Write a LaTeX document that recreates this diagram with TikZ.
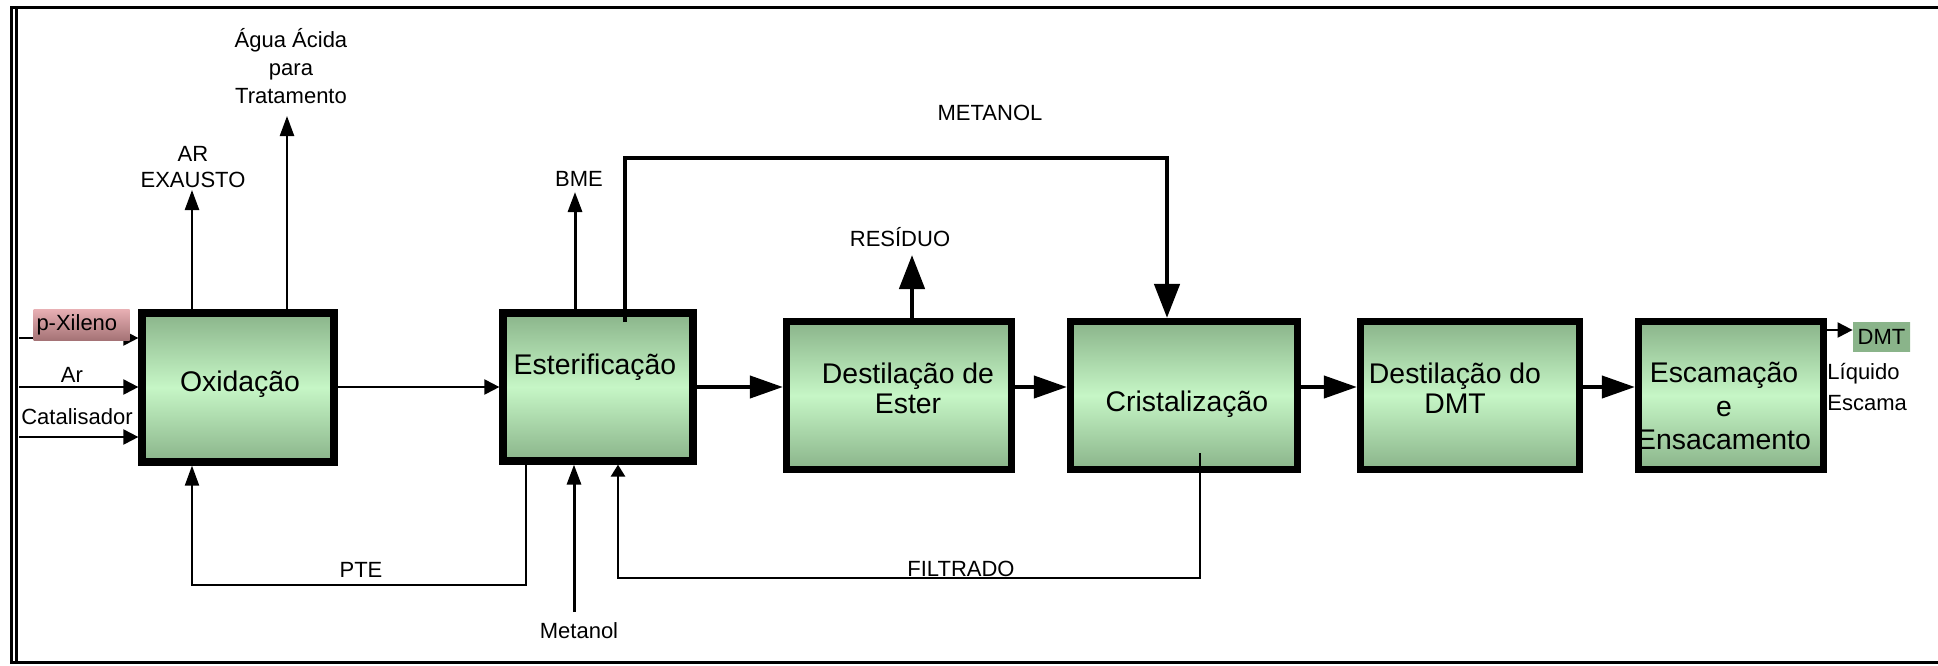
\documentclass[tikz,border=0pt]{standalone}
\usepackage{fontspec}
\setmainfont{Liberation Sans}
\usepackage{tikz}
\usetikzlibrary{arrows.meta,positioning}
\definecolor{boxdark}{RGB}{138,180,138}
\definecolor{boxlight}{RGB}{198,246,198}
\definecolor{pxdark}{RGB}{165,115,118}
\definecolor{pxmid}{RGB}{232,176,180}
\definecolor{pxlight}{RGB}{246,206,209}
\newcommand{\boxfont}{\fontsize{14.2pt}{15pt}\selectfont}
\newcommand{\lblfont}{\fontsize{11pt}{13.5pt}\selectfont}

\begin{document}
\begin{tikzpicture}[x=0.5pt,y=-0.5pt]
\tikzstyle{unit}=[rectangle, draw=black, line width=3.6pt, top color=boxdark, bottom color=boxdark, middle color=boxlight, inner sep=0pt]
\tikzstyle{utext}=[font=\boxfont, align=center, inner sep=0pt]
\tikzstyle{lbl}=[font=\lblfont, align=center, inner sep=0pt]
\tikzstyle{feed}=[line width=1pt, -{Triangle[length=7.5pt,width=7.5pt]}]
\tikzstyle{vent}=[line width=1.2pt, -{Triangle[length=10pt,width=7pt]}]
\tikzstyle{filt}=[line width=1.3pt, -{Triangle[length=6pt,width=7pt]}]
\tikzstyle{flow}=[line width=2pt, -{Triangle[length=16.5pt,width=11pt]}]
\tikzstyle{heavy}=[line width=2.3pt, -{Triangle[length=17pt,width=12.5pt]}]
\tikzstyle{frame}=[line width=1.5pt]

\useasboundingbox (0,0) rectangle (1938,665);
\draw[frame] (1938,7) -- (11.5,7) -- (11.5,662) -- (1938,662);
\draw[line width=1.2pt] (16.5,7) -- (16.5,662);

% process units
\node[unit, minimum width=96pt, minimum height=74.5pt] (oxid) at (238,387.5) {};
\node[unit, minimum width=95pt, minimum height=74pt] (ester) at (598,387) {};
\node[unit, minimum width=112.5pt, minimum height=74pt] (destest) at (899,395.5) {};
\node[unit, minimum width=113.5pt, minimum height=74pt] (crist) at (1184,395.5) {};
\node[unit, minimum width=109.5pt, minimum height=74pt] (destdmt) at (1470,395.5) {};
\node[unit, minimum width=92.5pt, minimum height=74pt] (escam) at (1731,395.5) {};

\node[utext] (t_oxid) at (240,384) {Oxidação};
\node[utext] (t_ester) at (595,367) {Esterificação};
\node[utext] (t_destest) at (908,388) {Destilação de\\Ester};
\node[utext] (t_crist) at (1187,404) {Cristalização};
\node[utext] (t_destdmt) at (1455,388) {Destilação do\\DMT};
\node[utext] (t_escam) at (1724,406) {Escamação\\[1.8pt]e\\[1.8pt]Ensacamento};

% feeds to the oxidation
\coordinate (in_px) at (19,338);
\coordinate (in_ar) at (19,387);
\coordinate (in_cat) at (19,437);
\coordinate (mainline) at (0,387);
\draw[feed] (in_px) -- (in_px -| oxid.west);
\draw[feed] (in_ar) -- (in_ar -| oxid.west);
\draw[feed] (in_cat) -- (in_cat -| oxid.west);
\node[rectangle, top color=pxmid, middle color=pxlight, bottom color=pxdark, font=\lblfont, inner sep=1.5pt, text width=45pt, align=left, minimum height=15.5pt] (pxbox) at (81.5,324.5) {p-Xileno};
\node[lbl] (l_ar) at (72,375) {Ar};
\node[lbl] (l_cat) at (77,417) {Catalisador};

% vents
\coordinate (ae_end) at (192,190);
\coordinate (ag_end) at (287,116);
\draw[vent] (ae_end |- oxid.north) -- (ae_end);
\draw[vent] (ag_end |- oxid.north) -- (ag_end);
\node[lbl] (l_ae) at (193,167) {AR\\[-0.5pt]EXAUSTO};
\node[lbl] (l_ag) at (291,66) {Água Ácida\\[0.5pt]para\\[0.5pt]Tratamento};

% PTE recycle
\coordinate (pte_a) at (526,585);
\coordinate (pte_b) at (192,585);
\draw[vent, line width=1pt] (pte_a |- ester.south) -- (pte_a) -- (pte_b) -- (pte_b |- oxid.south);
\node[lbl] (l_pte) at (361,570) {PTE};

\draw[feed] (oxid.east |- mainline) -- (ester.west |- mainline);

% esterification streams
\coordinate (met_in) at (574,612);
\draw[vent, line width=1.5pt] (met_in) -- (met_in |- ester.south);
\node[lbl] (l_met) at (579,631) {Metanol};
\coordinate (bme_end) at (575,192);
\draw[vent, line width=1.5pt] (bme_end |- ester.north) -- (bme_end);
\node[lbl] (l_bme) at (579,179) {BME};

% methanol return
\coordinate (meth_a) at (625,322);
\coordinate (meth_b) at (625,158);
\coordinate (meth_c) at (1167,158);
\draw[heavy] (meth_a) -- (meth_b) -- (meth_c) -- (meth_c |- crist.north);
\node[lbl] (l_metanol) at (990,113) {METANOL};

% residue
\coordinate (res_end) at (912,255);
\draw[heavy] (res_end |- destest.north) -- (res_end);
\node[lbl] (l_res) at (900,237) {RESÍDUO};

% main line
\draw[flow] (ester.east |- mainline) -- (destest.west |- mainline);
\draw[flow] (destest.east |- mainline) -- (crist.west |- mainline);
\draw[flow] (crist.east |- mainline) -- (destdmt.west |- mainline);
\draw[flow] (destdmt.east |- mainline) -- (escam.west |- mainline);

% filtrate
\coordinate (filt_a) at (1200,453);
\coordinate (filt_b) at (1200,578);
\coordinate (filt_c) at (618,578);
\draw[filt] (filt_a) -- (filt_b) -- (filt_c) -- (filt_c |- ester.south);
\node[lbl] (l_filt) at (961,569) {FILTRADO};

% product
\coordinate (dmt_y) at (0,330);
\node[rectangle, top color=boxdark, middle color=boxlight, bottom color=boxdark, font=\lblfont, inner sep=0pt, minimum width=28.5pt, minimum height=14.5pt] (dmtbox) at (1881.5,336.5) {DMT};
\draw[feed] (escam.east |- dmt_y) -- (dmtbox.west |- dmt_y);
\node[lbl, anchor=west, align=left] (l_prod) at (1827,387) {Líquido\\[2pt]Escama};

\end{tikzpicture}
\end{document}
